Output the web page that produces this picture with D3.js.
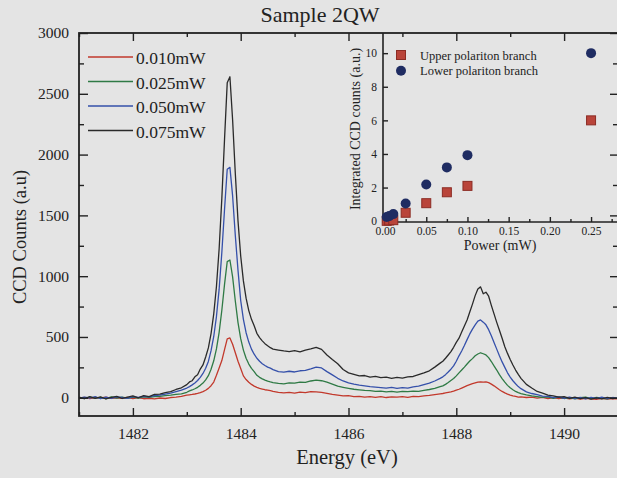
<!DOCTYPE html>
<html>
<head>
<meta charset="utf-8">
<script src="https://cdn.jsdelivr.net/npm/d3@7"></script>
<style>
  body { margin: 0; background: #e4e4e4; overflow: hidden; }
  svg { display: block; }
</style>
</head>
<body>
<div id="chart-container"></div>
<script>
// energy grid (eV), denser around the two peaks
const energy = [
  1481.0,1481.1,1481.2,1481.3,1481.4,1481.5,1481.6,1481.7,1481.8,1481.9,
  1482.0,1482.1,1482.2,1482.3,1482.4,1482.5,1482.6,1482.7,1482.8,1482.9,
  1483.00,1483.05,1483.10,1483.15,1483.20,1483.25,1483.30,1483.35,1483.40,1483.45,
  1483.50,1483.55,1483.60,1483.65,1483.70,1483.75,1483.80,1483.85,1483.90,1483.95,
  1484.00,1484.05,1484.10,1484.15,1484.20,1484.25,1484.30,1484.35,1484.40,1484.45,
  1484.50,1484.55,
  1484.6,1484.7,1484.8,1484.9,1485.0,1485.1,1485.2,1485.3,1485.4,1485.5,
  1485.6,1485.7,1485.8,1485.9,1486.0,1486.1,1486.2,1486.3,1486.4,1486.5,
  1486.6,1486.7,1486.8,1486.9,1487.0,1487.1,1487.2,1487.3,1487.4,1487.5,
  1487.6,1487.7,
  1487.75,1487.80,1487.85,1487.90,1487.95,1488.00,1488.05,1488.10,1488.15,1488.20,
  1488.25,1488.30,1488.35,1488.40,1488.45,1488.50,1488.55,1488.60,1488.65,1488.70,
  1488.75,1488.80,1488.85,1488.90,1488.95,1489.00,1489.05,1489.10,1489.15,1489.20,
  1489.3,1489.4,1489.5,1489.6,1489.7,1489.8,1489.9,1490.0,1490.1,1490.2,
  1490.3,1490.4,1490.5,1490.6,1490.7,1490.8,1490.9,1491.0
];

const counts010 = [
  -3,4,-6,2,-2,5,-5,0,-4,3,-6,2,-8,-4,-10,-2,-6,2,6,12,
  21,24,27,31,36,43,51,62,77,99,129,185,245,306,396,485,492,440,370,300,
  240,180,150,128,110,96,86,78,72,66,62,58,
  52,45,40,44,38,46,42,50,48,44,36,28,22,15,18,10,12,6,10,4,
  9,2,8,5,10,4,12,10,16,20,26,32,
  35,40,44,48,54,62,70,80,90,100,108,116,122,128,131,128,130,124,112,98,
  82,66,52,40,30,22,15,12,6,8,
  2,6,-3,4,-6,2,-8,0,-10,-2,-12,-4,-8,-14,-5,-12,-6,-10
];
const counts025 = [
  2,-6,6,-3,4,-8,8,-2,5,-4,6,-2,8,3,10,12,18,22,28,32,
  45,56,64,74,86,102,121,147,182,234,304,402,538,720,933,1120,1133,994,796,618,
  486,392,325,277,242,215,185,168,155,145,136,130,
  125,118,115,122,120,128,126,138,145,140,128,112,95,86,78,70,65,60,58,52,
  55,48,52,47,53,50,55,52,60,68,78,92,
  98,110,125,142,158,180,205,228,252,278,302,322,345,360,370,362,352,330,298,262,
  228,190,158,128,102,82,66,52,42,35,
  24,16,10,3,8,-4,5,-6,2,-10,0,6,-8,3,-4,-10,0,-6
];
const counts050 = [
  -4,6,-2,10,-8,5,-6,8,2,-5,10,4,12,8,18,22,30,38,50,62,
  80,92,106,122,142,168,200,243,299,387,504,668,893,1195,1548,1880,1895,1660,1335,1048,
  800,645,535,458,400,358,325,300,280,265,252,244,
  232,215,210,218,212,222,226,238,252,245,215,188,160,138,122,112,104,98,92,88,
  84,80,86,78,84,80,90,95,108,120,138,160,
  172,190,212,235,262,300,345,385,430,478,525,565,600,630,640,622,600,560,510,455,
  400,345,295,250,205,170,140,115,92,75,
  48,35,25,14,12,2,8,-4,6,-6,4,-10,3,-6,5,-8,2,-4
];
const counts075 = [
  5,-8,10,-5,8,-10,4,12,-6,6,15,0,18,10,28,30,42,50,68,82,
  108,130,140,172,190,236,270,335,410,528,690,915,1225,1640,2125,2590,2640,2285,1845,1455,
  1166,961,819,717,645,592,530,495,468,445,428,412,
  400,392,385,380,388,378,392,402,415,398,352,315,280,232,205,192,180,183,170,176,
  165,170,160,168,162,172,175,190,205,222,252,285,
  300,325,352,380,415,455,490,540,590,640,705,770,840,895,912,855,868,835,760,690,
  620,555,490,420,365,315,270,228,192,160,
  110,80,52,38,22,15,5,10,-5,6,-8,2,-12,0,-10,4,-6,-2
];

const seriesNames = ["0.010mW", "0.025mW", "0.050mW", "0.075mW"];
const seriesColors = ["#c2392c", "#2f7a45", "#3550aa", "#2a2a2a"];
const seriesValues = [counts010, counts025, counts050, counts075];

const xMajor = [1482, 1484, 1486, 1488, 1490];
const xMinor = [1481, 1483, 1485, 1487, 1489, 1491];
const yMajor = [0, 500, 1000, 1500, 2000, 2500, 3000];
const yMinor = [250, 750, 1250, 1750, 2250, 2750];

// inset: integrated counts vs power
const power = [0.002, 0.005, 0.01, 0.025, 0.05, 0.075, 0.1, 0.25];
const upperBranch = [0.02, 0.04, 0.06, 0.5, 1.07, 1.72, 2.1, 6.0];
const lowerBranch = [0.25, 0.3, 0.42, 1.05, 2.18, 3.2, 3.93, 10.0];
const insetXMajor = [0, 0.05, 0.1, 0.15, 0.2, 0.25];
const insetXMinor = [0.025, 0.075, 0.125, 0.175, 0.225, 0.275];
const insetYMajor = [0, 2, 4, 6, 8, 10];

const W = 617, H = 478;
const serif = "'Liberation Serif', 'Times New Roman', serif";
const ink = "#222";

const svg = d3.select("#chart-container").append("svg")
  .attr("width", W).attr("height", H);

svg.append("rect").attr("width", W).attr("height", H).attr("fill", "#e4e4e4");

const x = d3.scaleLinear().domain([1481, 1491]).range([79, 618]);
const y = d3.scaleLinear().domain([-150, 3000]).range([416, 33]);

function styleAxis(g, size) {
  g.select(".domain").remove();
  g.selectAll("line").attr("stroke", ink).attr("stroke-width", 1.4);
  g.selectAll("text").attr("fill", ink).style("font-family", serif).style("font-size", size + "px");
}

// spectra
const line = d3.line().x((d, i) => x(energy[i])).y(d => y(d));
seriesValues.forEach((vals, k) => {
  svg.append("path")
    .datum(vals)
    .attr("d", line)
    .attr("fill", "none")
    .attr("stroke", seriesColors[k])
    .attr("stroke-width", 1.3)
    .attr("stroke-linejoin", "round");
});

// main axes (ticks pointing inward)
svg.append("g").attr("transform", "translate(0,416)")
  .call(d3.axisBottom(x).tickValues(xMajor).tickFormat(d3.format("d")).tickSize(-8).tickPadding(12))
  .call(g => styleAxis(g, 15.5));
svg.append("g").attr("transform", "translate(0,416)")
  .call(d3.axisBottom(x).tickValues(xMinor).tickFormat("").tickSize(-4))
  .call(g => styleAxis(g, 15.5));
svg.append("g").attr("transform", "translate(0,33)")
  .call(d3.axisTop(x).tickValues(xMajor).tickFormat("").tickSize(-8))
  .call(g => styleAxis(g, 15.5));
svg.append("g").attr("transform", "translate(0,33)")
  .call(d3.axisTop(x).tickValues(xMinor).tickFormat("").tickSize(-4))
  .call(g => styleAxis(g, 15.5));

svg.append("g").attr("transform", "translate(79,0)")
  .call(d3.axisLeft(y).tickValues(yMajor).tickFormat(d3.format("d")).tickSize(-9).tickPadding(10))
  .call(g => styleAxis(g, 15.5));
svg.append("g").attr("transform", "translate(79,0)")
  .call(d3.axisLeft(y).tickValues(yMinor).tickFormat("").tickSize(-5))
  .call(g => styleAxis(g, 15.5));
svg.append("g").attr("transform", "translate(618,0)")
  .call(d3.axisRight(y).tickValues(yMajor).tickFormat("").tickSize(-8))
  .call(g => styleAxis(g, 15.5));
svg.append("g").attr("transform", "translate(618,0)")
  .call(d3.axisRight(y).tickValues(yMinor).tickFormat("").tickSize(-5))
  .call(g => styleAxis(g, 15.5));

svg.append("rect")
  .attr("x", 79).attr("y", 33).attr("width", 539).attr("height", 383)
  .attr("fill", "none").attr("stroke", ink).attr("stroke-width", 1.8);

// legend
seriesNames.forEach((name, k) => {
  const ly = 57 + k * 24.5;
  svg.append("line")
    .attr("x1", 88).attr("x2", 133).attr("y1", ly).attr("y2", ly)
    .attr("stroke", seriesColors[k]).attr("stroke-width", 1.6);
  svg.append("text")
    .attr("x", 136).attr("y", ly + 7)
    .attr("fill", ink)
    .style("font-family", serif).style("font-size", "17.5px")
    .text(name);
});

// titles
svg.append("text")
  .attr("x", 320).attr("y", 22).attr("text-anchor", "middle")
  .attr("fill", ink).style("font-family", serif).style("font-size", "22px")
  .text("Sample 2QW");
svg.append("text")
  .attr("x", 347).attr("y", 464).attr("text-anchor", "middle")
  .attr("fill", ink).style("font-family", serif).style("font-size", "20.5px")
  .text("Energy (eV)");
svg.append("text")
  .attr("transform", "translate(26,237) rotate(-90)").attr("text-anchor", "middle")
  .attr("fill", ink).style("font-family", serif).style("font-size", "18.5px")
  .text("CCD Counts (a.u)");

// inset
const ix = d3.scaleLinear().domain([-0.0025, 0.2827]).range([383, 618]);
const iy = d3.scaleLinear().domain([-0.05, 11.2]).range([222, 33]);

svg.append("g").attr("transform", "translate(0,222)")
  .call(d3.axisBottom(ix).tickValues(insetXMajor).tickFormat(d3.format(".2f")).tickSize(-5).tickPadding(5))
  .call(g => styleAxis(g, 11.5));
svg.append("g").attr("transform", "translate(0,222)")
  .call(d3.axisBottom(ix).tickValues(insetXMinor).tickFormat("").tickSize(-3))
  .call(g => styleAxis(g, 11.5));
svg.append("g").attr("transform", "translate(383,0)")
  .call(d3.axisLeft(iy).tickValues(insetYMajor).tickFormat(d3.format("d")).tickSize(-5).tickPadding(6))
  .call(g => styleAxis(g, 11.5));

svg.append("path")
  .attr("d", "M383,33V222H618")
  .attr("fill", "none").attr("stroke", ink).attr("stroke-width", 1.6);

svg.selectAll(".upper").data(power).enter().append("rect")
  .attr("class", "upper")
  .attr("x", (d, i) => ix(d) - 4.5).attr("y", (d, i) => iy(upperBranch[i]) - 4.5)
  .attr("width", 9).attr("height", 9)
  .attr("fill", "#b9443a").attr("stroke", "#8c2c24").attr("stroke-width", 1);
svg.selectAll(".lower").data(power).enter().append("circle")
  .attr("class", "lower")
  .attr("cx", d => ix(d)).attr("cy", (d, i) => iy(lowerBranch[i]))
  .attr("r", 5)
  .attr("fill", "#1f2c62");

svg.append("rect")
  .attr("x", 396.5).attr("y", 50.5).attr("width", 9).attr("height", 9)
  .attr("fill", "#b9443a").attr("stroke", "#8c2c24").attr("stroke-width", 1);
svg.append("circle").attr("cx", 401).attr("cy", 70.7).attr("r", 5).attr("fill", "#1f2c62");
svg.append("text").attr("x", 420).attr("y", 59.5)
  .attr("fill", ink).style("font-family", serif).style("font-size", "12.5px")
  .text("Upper polariton branch");
svg.append("text").attr("x", 420).attr("y", 75)
  .attr("fill", ink).style("font-family", serif).style("font-size", "12.5px")
  .text("Lower polariton branch");

svg.append("text")
  .attr("x", 500).attr("y", 250).attr("text-anchor", "middle")
  .attr("fill", ink).style("font-family", serif).style("font-size", "14px")
  .text("Power (mW)");
svg.append("text")
  .attr("transform", "translate(360,129) rotate(-90)").attr("text-anchor", "middle")
  .attr("fill", ink).style("font-family", serif).style("font-size", "14px")
  .text("Integrated CCD counts (a.u.)");
</script>
</body>
</html>
